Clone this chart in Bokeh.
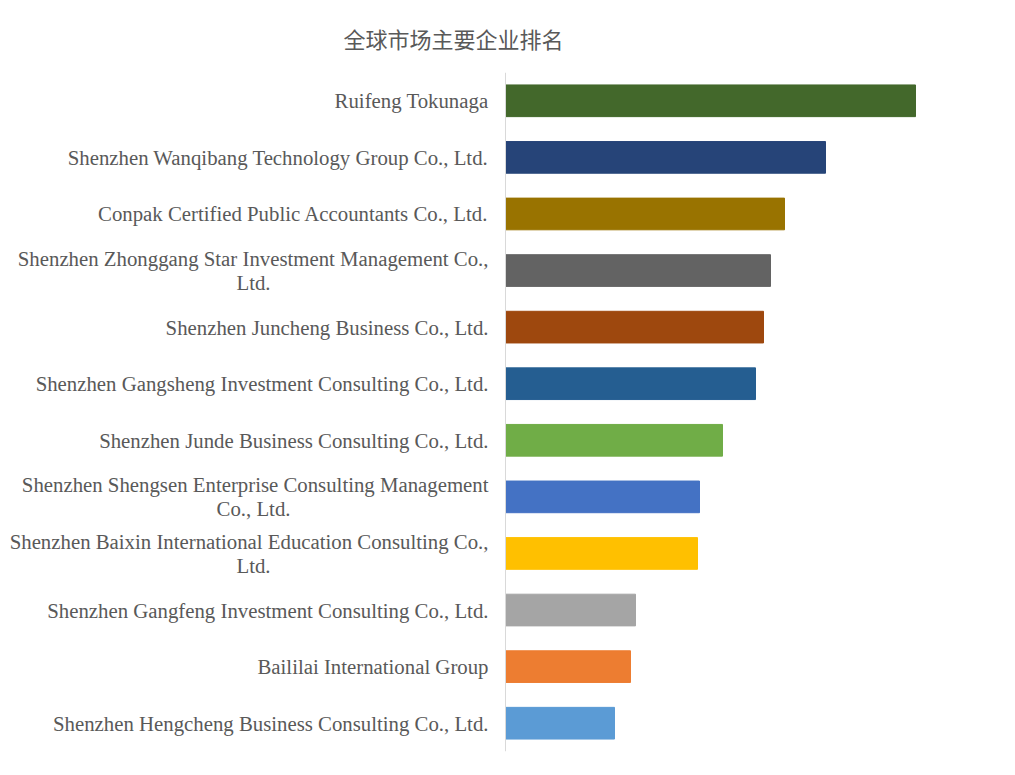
from bokeh.plotting import figure
from bokeh.models import ColumnDataSource, Range1d, FactorRange, Span
from bokeh.core.properties import value
from bokeh.embed import file_html
from bokeh.resources import INLINE

# companies from top to bottom
companies = [
    "Ruifeng Tokunaga",
    "Shenzhen Wanqibang Technology Group Co., Ltd.",
    "Conpak Certified Public Accountants Co., Ltd.",
    "Shenzhen Zhonggang Star Investment Management Co., Ltd.",
    "Shenzhen Juncheng Business Co., Ltd.",
    "Shenzhen Gangsheng Investment Consulting Co., Ltd.",
    "Shenzhen Junde Business Consulting Co., Ltd.",
    "Shenzhen Shengsen Enterprise Consulting Management Co., Ltd.",
    "Shenzhen Baixin International Education Consulting Co., Ltd.",
    "Shenzhen Gangfeng Investment Consulting Co., Ltd.",
    "Baililai International Group",
    "Shenzhen Hengcheng Business Consulting Co., Ltd.",
]
# tick labels as wrapped in the chart (first line, second line)
label_line1 = [
    "Ruifeng Tokunaga",
    "Shenzhen Wanqibang Technology Group Co., Ltd.",
    "Conpak Certified Public Accountants Co., Ltd.",
    "Shenzhen Zhonggang Star Investment Management Co.,",
    "Shenzhen Juncheng Business Co., Ltd.",
    "Shenzhen Gangsheng Investment Consulting Co., Ltd.",
    "Shenzhen Junde Business Consulting Co., Ltd.",
    "Shenzhen Shengsen Enterprise Consulting Management",
    "Shenzhen Baixin International Education Consulting Co.,",
    "Shenzhen Gangfeng Investment Consulting Co., Ltd.",
    "Baililai International Group",
    "Shenzhen Hengcheng Business Consulting Co., Ltd.",
]
label_line2 = ["", "", "", "Ltd.", "", "", "", "Co., Ltd.", "Ltd.", "", "", ""]
scores = [41.0, 32.0, 27.9, 26.5, 25.8, 25.0, 21.7, 19.4, 19.2, 13.0, 12.5, 10.9]
colors = ["#43682B", "#264478", "#997300", "#636363", "#9E480E", "#255E91",
          "#70AD47", "#4472C4", "#FFC000", "#A5A5A5", "#ED7D31", "#5B9BD5"]

src = ColumnDataSource(dict(company=companies, score=scores, color=colors))

one = [i for i in range(len(companies)) if not label_line2[i]]
two = [i for i in range(len(companies)) if label_line2[i]]
src1 = ColumnDataSource(dict(company=[companies[i] for i in one],
                             text=[label_line1[i] for i in one],
                             x=[0] * len(one)))
src2 = ColumnDataSource(dict(company=[companies[i] for i in two],
                             top=[label_line1[i] for i in two],
                             bottom=[label_line2[i] for i in two],
                             x=[0] * len(two)))

# the category labels live inside the frame, left of zero
p = figure(width=1000, height=760, y_range=FactorRange(*companies[::-1], range_padding=0),
           x_range=Range1d(-50.5, 48.5),
           title="全球市场主要企业排名", output_backend="svg", toolbar_location=None,
           min_border_left=0, min_border_right=10, min_border_top=69, min_border_bottom=9)

p.hbar(y="company", right="score", left=0, height=0.56, color="color", source=src)

font = dict(text_font=value("Liberation Serif"), text_font_size="20.8px", text_color="#595959",
            text_baseline="middle")
p.text(x="x", y="company", text="text", source=src1, x_offset=-17, text_align="right", **font)
p.text(x="x", y="company", text="top", source=src2, x_offset=-17, y_offset=-12,
       text_align="right", **font)
p.text(x="x", y="company", text="bottom", source=src2, x_offset=-252, y_offset=12,
       text_align="center", **font)

# category axis line
p.add_layout(Span(location=0, dimension="height", line_color="#D9D9D9", line_width=1))

p.title.text_font = "Noto Sans CJK SC"
p.title.text_font_size = "22px"
p.title.text_font_style = "normal"
p.title.text_color = "#595959"
p.title.align = "left"
p.title.offset = 343
p.title.standoff = 38

p.axis.visible = False
p.xgrid.visible = False
p.ygrid.visible = False
p.outline_line_color = None

open("out.html", "w").write(file_html(p, INLINE))
